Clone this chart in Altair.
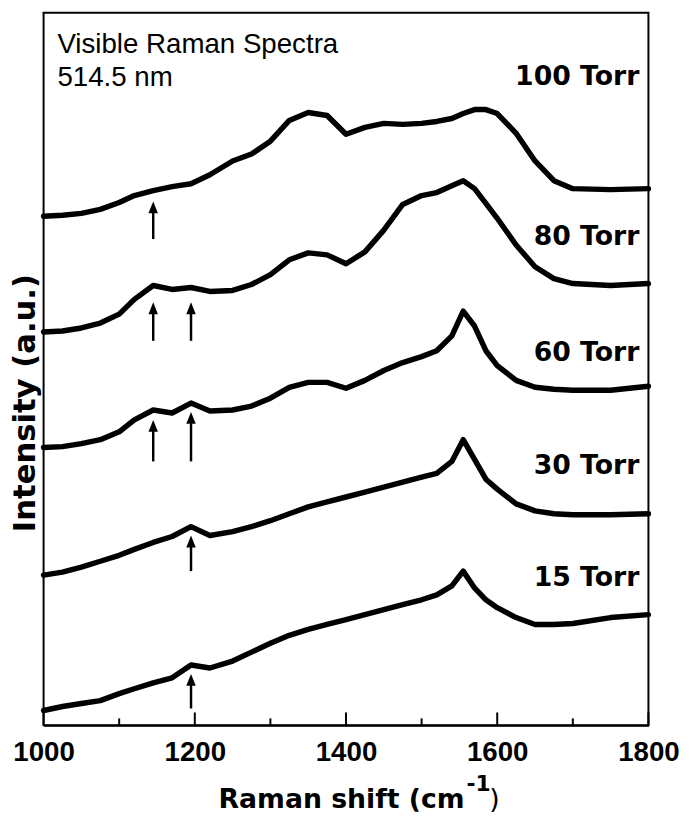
import altair as alt
import pandas as pd

# Raman shift positions (cm^-1)
X = [1000, 1025, 1050, 1075, 1100, 1120, 1145, 1170, 1195, 1220, 1250, 1275,
     1300, 1325, 1350, 1375, 1400, 1425, 1450, 1475, 1500, 1520, 1540, 1555,
     1570, 1585, 1600, 1625, 1650, 1675, 1700, 1750, 1800]

# Intensities (a.u., offset-stacked spectra)
I_100 = [515, 516, 518, 522, 529, 536, 541, 545, 548, 557, 571, 578,
         591, 612, 620, 617, 598, 605, 609, 608, 609, 611, 614, 619,
         623, 623, 619, 599, 571, 551, 543, 542, 543]
I_80 = [398, 399, 402, 407, 416, 431, 445, 441, 443, 439, 440, 446,
        456, 471, 478, 476, 467, 479, 501, 527, 536, 539, 546, 551,
        543, 528, 513, 486, 464, 452, 447, 445, 447]
I_60 = [281, 282, 285, 289, 297, 309, 319, 316, 326, 318, 319, 323,
        331, 342, 347, 347, 341, 349, 359, 367, 373, 379, 394, 419,
        404, 379, 364, 349, 342, 340, 339, 339, 343]
I_30 = [152, 155, 160, 166, 172, 178, 185, 191, 201, 192, 196, 201,
        207, 214, 221, 226, 231, 236, 241, 246, 251, 255, 267, 289,
        269, 249, 239, 224, 217, 214, 213, 213, 214]
I_15 = [15, 19, 22, 25, 32, 37, 43, 48, 61, 58, 65, 74,
        83, 91, 97, 102, 107, 112, 117, 122, 127, 132, 141, 156,
        139, 127, 119, 109, 102, 102, 103, 109, 112]

SERIES = ["100 Torr", "80 Torr", "60 Torr", "30 Torr", "15 Torr"]
VALUES = [I_100, I_80, I_60, I_30, I_15]

# label anchor heights (a.u.)
LABEL_V = [656, 494, 377, 262, 149]
LABEL_X = 1788

# arrows: position, tail, tip (a.u.)
ARROW_X = [1145, 1145, 1195, 1145, 1195, 1195, 1195]
ARROW_TAIL = [492, 389, 389, 267, 267, 156, 17]
ARROW_TIP = [530, 428, 428, 309, 317, 192, 52]

MAJOR_TICKS = [1000, 1200, 1400, 1600, 1800]
MINOR_TICKS = [1100, 1300, 1500, 1700]
MAJOR_LEN = 13
MINOR_LEN = 7

rows = []
for name, vals in zip(SERIES, VALUES):
    for xv, yv in zip(X, vals):
        rows.append({"series": name, "x": xv, "v": yv})
df = pd.DataFrame(rows)

arrows = pd.DataFrame({"x": ARROW_X, "tail": ARROW_TAIL, "tip": ARROW_TIP})
arrows["shaft_end"] = arrows["tip"] - 6
labels = pd.DataFrame({"label": SERIES, "v": LABEL_V, "x": [LABEL_X] * len(SERIES)})
ticks = pd.DataFrame({
    "x": MAJOR_TICKS + MINOR_TICKS,
    "y0": [0] * (len(MAJOR_TICKS) + len(MINOR_TICKS)),
    "y1": [MAJOR_LEN] * len(MAJOR_TICKS) + [MINOR_LEN] * len(MINOR_TICKS),
})

xscale = alt.Scale(domain=[1000, 1800], nice=False, zero=False)
yscale = alt.Scale(domain=[0, 721], nice=False, zero=False)
xaxis = alt.Axis(values=MAJOR_TICKS, title=None, ticks=False, grid=False,
                 labelFont="Liberation Sans", labelFontWeight="bold", labelFontSize=28,
                 labelColor="black", labelPadding=14, domainColor="black",
                 domainWidth=2, labelFlush=False, format="d")


def X_(field="x"):
    return alt.X(f"{field}:Q", scale=xscale, axis=xaxis)


def Y_(field):
    return alt.Y(f"{field}:Q", scale=yscale, axis=None)


lines = alt.Chart(df).mark_line(color="black", strokeWidth=5.5, strokeJoin="round",
                                strokeCap="round").encode(
    x=X_(), y=Y_("v"), detail="series:N")

shafts = alt.Chart(arrows).mark_rule(color="black", strokeWidth=2.5).encode(
    x=X_(), y=Y_("tail"), y2="shaft_end:Q")

heads = alt.Chart(arrows).mark_point(
    shape="M0,0L-0.8,2L0.8,2Z", filled=True, color="black", opacity=1,
    size=144, strokeWidth=0).encode(x=X_(), y=Y_("tip"))

tickmarks = alt.Chart(ticks).mark_rule(color="black", strokeWidth=2).encode(
    x=X_(), y=Y_("y0"), y2="y1:Q")

torr = alt.Chart(labels).mark_text(
    align="right", baseline="middle", font="DejaVu Sans", fontWeight="bold",
    fontSize=27, color="black").encode(x=X_(), y=Y_("v"), text="label:N")


def note(txt, x, y, **kw):
    d = pd.DataFrame({"t": [txt]})
    return alt.Chart(d).mark_text(color="black", **kw).encode(
        x=alt.value(x), y=alt.value(y), text="t:N")


t1 = note("Visible Raman Spectra", 14, 41, align="left", baseline="alphabetic",
          font="Liberation Sans", fontSize=28)
t2 = note("514.5 nm", 14, 74, align="left", baseline="alphabetic",
          font="Liberation Sans", fontSize=28)
xt1 = note("Raman shift (cm", 426, 805, align="right", baseline="alphabetic",
           font="DejaVu Sans", fontWeight="bold", fontSize=27)
xt2 = note("-1", 428, 787, align="left", baseline="alphabetic",
           font="DejaVu Sans", fontWeight="bold", fontSize=22)
xt3 = note(")", 451, 805, align="left", baseline="alphabetic",
           font="DejaVu Sans", fontSize=27)
yt = note("Intensity (a.u.)", -9, 395, align="center", baseline="alphabetic",
          font="DejaVu Sans", fontWeight="bold", fontSize=31, angle=270)

chart = alt.layer(tickmarks, lines, shafts, heads, torr, t1, t2, xt1, xt2, xt3, yt).properties(
    width=612, height=721,
    padding={"left": 36, "top": 0, "right": 37, "bottom": 87},
    autosize=alt.AutoSizeParams(type="none"),
    background="white",
).configure_view(stroke="black", strokeWidth=2)

chart.save("out.html", embed_options={"renderer": "svg", "actions": False})
